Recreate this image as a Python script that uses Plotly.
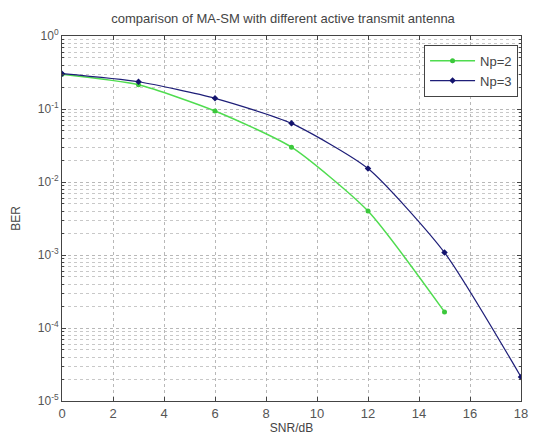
import plotly.graph_objects as go

snr_np2 = [0, 3, 6, 9, 12, 15]
ber_np2 = [0.30, 0.215, 0.094, 0.030, 0.0040, 0.000166]
snr_np3 = [0, 3, 6, 9, 12, 15, 18]
ber_np3 = [0.305, 0.236, 0.140, 0.0636, 0.0153, 0.00108, 0.0000214]
xticks = [0, 2, 4, 6, 8, 10, 12, 14, 16, 18]
yticks = [1, 1e-1, 1e-2, 1e-3, 1e-4, 1e-5]
yticktext = ["10<sup>0</sup>", "10<sup>-1</sup>", "10<sup>-2</sup>", "10<sup>-3</sup>",
             "10<sup>-4</sup>", "10<sup>-5</sup>"]

font = "Liberation Sans, Arial, sans-serif"
fig = go.Figure()
fig.add_trace(go.Scatter(x=snr_np2, y=ber_np2, name="Np=2", mode="lines+markers",
                         line=dict(color="#4fdc4f", width=1.5, shape="spline", smoothing=0.6),
                         marker=dict(symbol="circle", size=5, color="#3cc83c")))
fig.add_trace(go.Scatter(x=snr_np3, y=ber_np3, name="Np=3", mode="lines+markers",
                         line=dict(color="#1e1e78", width=1.2, shape="spline", smoothing=0.6),
                         marker=dict(symbol="diamond", size=5, color="#14146e")))

grid = dict(showgrid=True, gridcolor="#b8b8b8", griddash="dot", gridwidth=1)
fig.update_xaxes(range=[0, 18], tickvals=xticks, ticks="inside", ticklen=4,
                 showline=True, linecolor="#444", linewidth=1, mirror="ticks",
                 zeroline=False, title=dict(text="SNR/dB", standoff=2, font=dict(size=12)),
                 tickfont=dict(size=13, color="#555"), **grid)
fig.update_yaxes(type="log", range=[-5, 0], tickvals=yticks, ticktext=yticktext,
                 ticks="inside", ticklen=4, showline=True, linecolor="#444", linewidth=1,
                 mirror="ticks", title=dict(text="BER", standoff=14, font=dict(size=12)),
                 tickfont=dict(size=12, color="#555"),
                 minor=dict(showgrid=True, gridcolor="#c8c8c8", griddash="dot", ticks="inside",
                            ticklen=2, dtick="D1"),
                 **grid)
fig.update_layout(
    width=536, height=439,
    margin=dict(l=62, r=8, t=36, b=36),
    paper_bgcolor="white", plot_bgcolor="white",
    font=dict(family=font, size=12, color="#444"),
    title=dict(text="comparison of MA-SM with different active transmit antenna",
               x=0.528, xanchor="center", y=0.958, yanchor="middle", font=dict(size=13, color="#444")),
    legend=dict(x=0.9936, y=0.976, xanchor="right", yanchor="top", bgcolor="white",
                bordercolor="#444", borderwidth=1, font=dict(size=13), tracegroupgap=0,
                itemwidth=45),
    showlegend=True,
)
fig.write_html("out.html", config={"displayModeBar": False},
               post_script="document.body.style.margin='0px';document.body.style.overflow='hidden';")
